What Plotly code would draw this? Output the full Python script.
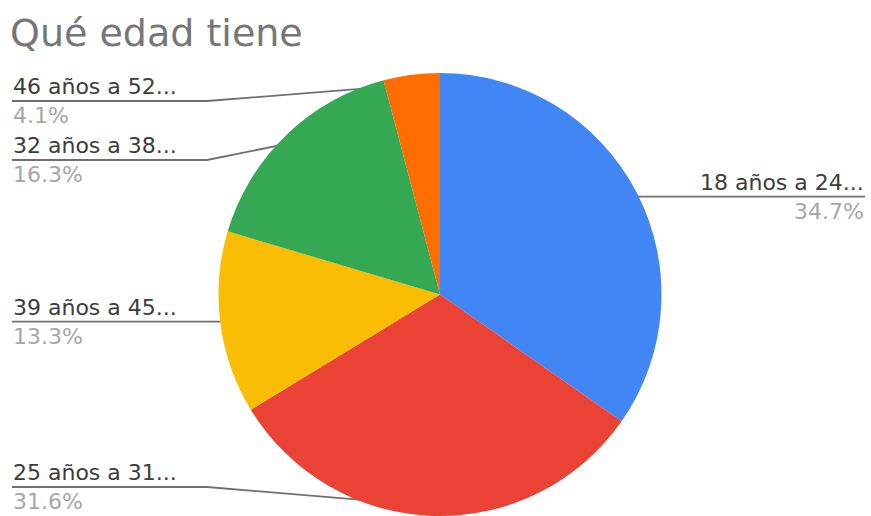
import numpy as np
import plotly.graph_objects as go

# Slices listed clockwise from 12 o'clock
categories = ["18 años a 24...", "25 años a 31...", "39 años a 45...", "32 años a 38...", "46 años a 52..."]
shares = [34.7, 31.6, 13.3, 16.3, 4.1]
colors = ["#4285F4", "#EA4335", "#FBBC04", "#34A853", "#FF6D01"]

W, H = 871, 516
CX, CY, R = 440.0, 294.5, 221.5          # pie centre / radius in pixels
DOT_R = 0.955 * R                         # where leader lines touch the slices
LEFT_X, RIGHT_X, ELBOW_X = 12, 865, 207   # label column edges and leader elbow
# label rows (pixel y of the underline); None keeps the row level with its dot
label_row_y = [None, 487, None, 160, 101]
FONT = "DejaVu Sans, sans-serif"

fig = go.Figure()

fig.add_trace(go.Pie(
    labels=categories, values=shares, sort=False, direction="clockwise",
    rotation=0, textinfo="none", hoverinfo="label+percent",
    marker=dict(colors=colors, line=dict(width=0)),
    domain=dict(x=[(CX - R) / W, (CX + R) / W], y=[1 - (CY + R) / H, 1 - (CY - R) / H]),
    showlegend=False,
))

total = float(np.sum(shares))
start = 0.0
annotations = []
for cat, val, row_y in zip(categories, shares, label_row_y):
    mid = (start + val / 2) / total * 2 * np.pi
    start += val
    dx, dy = np.sin(mid), -np.cos(mid)
    px, py = CX + DOT_R * dx, CY + DOT_R * dy
    ly = py if row_y is None else row_y
    if dx >= 0:
        xs, ys, tx, anchor = [px, RIGHT_X], [py, ly], RIGHT_X, "right"
    else:
        xs, ys, tx, anchor = [px, ELBOW_X, LEFT_X], [py, ly, ly], LEFT_X, "left"
    fig.add_trace(go.Scatter(
        x=xs, y=ys, mode="lines", line=dict(color="#6f6f6f", width=1.8),
        hoverinfo="skip", showlegend=False,
    ))
    fig.add_trace(go.Scatter(
        x=[px], y=[py], mode="markers",
        marker=dict(size=7, color="#a3a3a3", line=dict(width=0)),
        hoverinfo="skip", showlegend=False,
    ))
    annotations.append(dict(
        x=tx, y=ly - 1, xref="x", yref="y", text=cat, showarrow=False,
        xanchor=anchor, yanchor="bottom", borderpad=0,
        font=dict(family=FONT, size=22, color="#3c3c3c"),
    ))
    annotations.append(dict(
        x=tx, y=ly + 1, xref="x", yref="y", text=f"{val:.1f}%", showarrow=False,
        xanchor=anchor, yanchor="top", borderpad=0,
        font=dict(family=FONT, size=22, color="#a6a6a6"),
    ))

fig.update_layout(
    width=W, height=H,
    margin=dict(l=0, r=0, t=0, b=0),
    paper_bgcolor="white", plot_bgcolor="rgba(0,0,0,0)",
    title=dict(
        text="Qué edad tiene", x=10 / W, xanchor="left", xref="paper",
        y=1 - 33 / H, yanchor="middle", yref="container",
        font=dict(family=FONT, size=38, color="#767676"),
    ),
    xaxis=dict(range=[0, W], visible=False, fixedrange=True, domain=[0, 1]),
    yaxis=dict(range=[H, 0], visible=False, fixedrange=True, domain=[0, 1]),
    annotations=annotations,
)

fig.write_html("out.html")
